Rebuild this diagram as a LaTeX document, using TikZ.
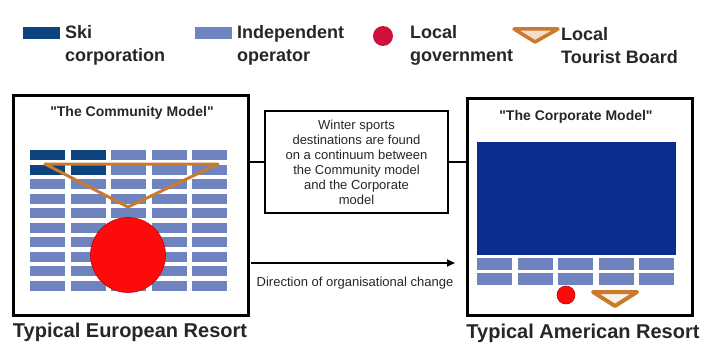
\documentclass[tikz,border=0pt]{standalone}
\usepackage{fontspec}
\setmainfont{Liberation Sans}
\usetikzlibrary{arrows.meta}
\definecolor{skiblue}{HTML}{0D437F}
\definecolor{corpblue}{HTML}{0B2D8F}
\definecolor{indblue}{HTML}{6F84BE}
\definecolor{govred}{HTML}{FF0A0A}
\definecolor{keyred}{HTML}{D0103C}
\definecolor{boardorange}{HTML}{C97A2B}
\definecolor{inktext}{HTML}{262626}
\begin{document}
\begin{tikzpicture}[x=1pt, y=-1pt,
    swatch/.style={draw=none, minimum width=37pt, minimum height=12pt, inner sep=0pt},
    keytext/.style={anchor=west, align=left, inner sep=0pt, text=inktext, font=\fontsize{18}{23}\selectfont\bfseries},
    resort/.style={draw, line width=3pt, inner sep=0pt},
    modeltitle/.style={text=inktext, inner sep=0pt, font=\fontsize{14}{16}\selectfont\bfseries},
    resortlabel/.style={text=inktext, inner sep=0pt, font=\fontsize{20}{24}\selectfont\bfseries},
    note/.style={draw, line width=2.5pt, minimum width=183pt, minimum height=102pt, align=center, inner sep=0pt, text=inktext, font=\fontsize{13}{15}\selectfont},
    govt/.style={circle, fill=govred, draw=govred!70!black, line width=0.6pt, inner sep=0pt},
    board/.style={draw=boardorange, line width=3pt, line join=round},
    link/.style={line width=2pt},
  ]
  \useasboundingbox (0,0) rectangle (702,345);

  % legend
  \node[swatch, fill=skiblue] (skikey) at (41.5,33) {};
  \node[keytext] (skitext) at (65,45.5) {Ski\\corporation};
  \node[swatch, fill=indblue] (indkey) at (213.5,33) {};
  \node[keytext] (indtext) at (237,45.5) {Independent\\operator};
  \node[govt, fill=keyred, draw=none, minimum size=20pt] (govkey) at (383,36) {};
  \node[keytext] (govtext) at (410,45.5) {Local\\government};
  \draw[board, line width=3.5pt, fill=boardorange!25] (514,29) -- (558,29) -- (535,42) -- cycle;
  \node[keytext] (boardtext) at (561,45.5) {Local\\Tourist Board};

  % the community model
  \node[resort, minimum width=235pt, minimum height=219pt] (euro) at (130.5,205.5) {};
  \node[modeltitle] (eurotitle) at (132,113) {\textquotedbl The Community Model\textquotedbl};
  \foreach \i in {0,...,4}
    \foreach \j in {0,...,9}
      \fill[indblue] (30+40.5*\i,150+14.5*\j) rectangle ++(35,10);
  \foreach \i in {0,1}
    \foreach \j in {0,1}
      \fill[skiblue] (30+40.5*\i,150+14.5*\j) rectangle ++(35,10);
  \draw[board] (45,164) -- (218,164) -- (128,207) -- cycle;
  \node[govt, minimum size=75pt] (eurogov) at (128,255) {};
  \node[resortlabel] (eurolabel) at (130,332) {Typical European Resort};

  % the corporate model
  \node[resort, minimum width=225pt, minimum height=216pt] (amer) at (579.5,207) {};
  \node[modeltitle] (amertitle) at (576,117) {\textquotedbl The Corporate Model\textquotedbl};
  \fill[corpblue] (477,142) rectangle (676,255);
  \foreach \i in {0,...,4}
    \foreach \j in {0,1}
      \fill[indblue] (477+40.5*\i,258+15*\j) rectangle ++(35,12);
  \node[govt, minimum size=18pt] (amergov) at (566,295) {};
  \draw[board, line width=4pt, fill=boardorange!10] (593,292) -- (637,292) -- (615,306) -- cycle;
  \node[resortlabel] (amerlabel) at (583,333) {Typical American Resort};

  % continuum
  \node[note] (continuum) at (356.5,162) {Winter sports\\destinations are found\\on a continuum between\\the Community model\\and the Corporate\\model};
  \draw[link] (euro.east |- continuum.west) -- (continuum.west);
  \draw[link] (continuum.east) -- (continuum.east -| amer.west);

  \coordinate (changefrom) at (251,263);
  \coordinate (changeto) at (455,263);
  \draw[link, line width=2.5pt, -{Triangle[length=8pt, width=7pt]}] (changefrom) -- (changeto);
  \node[text=inktext, inner sep=0pt, font=\fontsize{13}{15}\selectfont] (changetext) at (355,283) {Direction of organisational change};
\end{tikzpicture}
\end{document}
